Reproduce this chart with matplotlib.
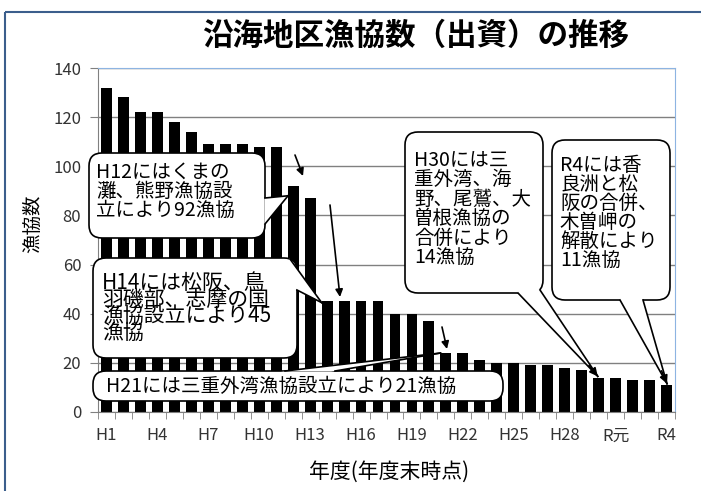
import matplotlib.pyplot as plt
import matplotlib.transforms as mtransforms
from matplotlib.patches import Rectangle, FancyBboxPatch, Polygon, FancyArrowPatch
from matplotlib.lines import Line2D
import numpy as np

plt.rcParams['font.family'] = ['Noto Sans CJK JP', 'DejaVu Sans']

# 年度（H1〜H30, R元〜R4）
years = ['H%d' % i for i in range(1, 31)] + ['R元', 'R2', 'R3', 'R4']
counts = [132, 128, 122, 122, 118, 114, 109, 109, 109, 108,
          108, 92, 87, 45, 45, 45, 45, 40, 40, 37,
          24, 24, 21, 20, 20, 19, 19, 18, 17, 14,
          14, 13, 13, 11]
tick_idx = list(range(0, 34, 3))
yticks = [0, 20, 40, 60, 80, 100, 120, 140]

title = '沿海地区漁協数（出資）の推移'
ylabel = '漁協数'
xlabel = '年度(年度末時点)'

W, H = 701, 491
fig = plt.figure(figsize=(W / 100, H / 100), dpi=100)
T = mtransforms.Affine2D().scale(1, -1).translate(0, H)   # 画像のピクセル座標（上から）

# 外枠
fig.add_artist(Rectangle((5, 12), 720, 500, transform=T, fill=False,
                         ec='#3b5e8c', lw=1.5, zorder=1))

ax = fig.add_axes([98 / W, (H - 412) / H, 577 / W, 344 / H])
x = np.arange(len(years))
ax.bar(x, counts, width=0.64, color='black', zorder=2)

ax.set_xlim(-0.5, len(years) - 0.5)
ax.set_ylim(0, 140)
ax.set_yticks(yticks)
ax.yaxis.grid(True, color='#808080', lw=1, zorder=0)
ax.set_xticks(tick_idx)
ax.set_xticklabels([years[i] for i in tick_idx])
ax.set_xticks(np.arange(-0.5, len(years)), minor=True)
ax.tick_params(axis='x', which='major', length=0, pad=11, labelsize=12, labelcolor='#333333')
ax.tick_params(axis='x', which='minor', length=5, direction='out', color='#808080')
ax.tick_params(axis='y', length=6, direction='out', color='#808080', labelsize=12,
               labelcolor='#333333', pad=6)
for s in ['top', 'right']:
    ax.spines[s].set_color('#8db4e2')
for s in ['left', 'bottom']:
    ax.spines[s].set_color('#808080')

fig.text(416, 36, title, transform=T, ha='center', va='center',
         fontsize=22, fontweight='bold')
fig.text(33, 224, ylabel, transform=T, rotation=90, ha='center', va='center', fontsize=14)
fig.text(389, 472, xlabel, transform=T, ha='center', va='center', fontsize=15)


def tip_px(xd, yd):
    px, py = ax.transData.transform((xd, yd))
    return px, H - py


def callout(txt, rect, txy, fs, ls, base1, base2, tip, head=False, va='center'):
    x0, y0, x1, y1 = rect
    fig.add_artist(FancyBboxPatch((x0, y0), x1 - x0, y1 - y0,
                                  boxstyle='round,pad=0,rounding_size=13',
                                  transform=T, fc='white', ec='black', lw=1.2, zorder=5))
    # 吹き出しの尾
    cx = (base1[0] + base2[0]) / 2
    cy = (base1[1] + base2[1]) / 2
    inner = [(b[0] + (cx - tip[0]) * 0.03, b[1] + (cy - tip[1]) * 0.03) for b in (base1, base2)]
    fig.add_artist(Polygon([inner[0], base1, tip, base2, inner[1]], closed=True,
                           transform=T, fc='white', ec='none', zorder=6))
    for b in (base1, base2):
        fig.add_artist(Line2D([b[0], tip[0]], [b[1], tip[1]], transform=T,
                              color='black', lw=1.2, zorder=7))
    if head:
        d = np.array(tip) - np.array([cx, cy])
        d = d / np.hypot(*d)
        start = np.array(tip) - d * 14
        fig.add_artist(FancyArrowPatch(tuple(start), tip, transform=T, arrowstyle='-|>',
                                       mutation_scale=12, color='black', lw=1.2,
                                       shrinkA=0, shrinkB=0, zorder=7))
    fig.text(txy[0], txy[1], txt, transform=T, ha='left', va=va, fontsize=fs,
             linespacing=ls, zorder=8)


def arrow(p0, p1):
    fig.add_artist(FancyArrowPatch(p0, p1, transform=T, arrowstyle='-|>',
                                   mutation_scale=11, color='black', lw=1.2,
                                   shrinkA=0, shrinkB=0, zorder=7))


callout('H12にはくまの\n灘、熊野漁協設\n立により92漁協', (89, 153, 265, 238), (96, 191), 14, 0.88,
        (265, 198), (265, 224), tip_px(10.7, 88))
callout('H14には松阪、鳥\n羽磯部、志摩の国\n漁協設立により45\n漁協', (93, 258, 297, 358), (102, 308), 15, 0.69,
        (290, 259), (297, 290), tip_px(12.68, 44.5))
callout('H21には三重外湾漁協設立により21漁協', (93, 371, 503, 401), (106, 386), 14, 0.88,
        (285, 371), (335, 371), tip_px(19.68, 24))
callout('H30には三\n重外湾、海\n野、尾鷲、大\n曽根漁協の\n合併により\n14漁協', (405, 132, 543, 293), (414, 209), 14, 0.9,
        (518, 293), (540, 290), tip_px(28.95, 14.5), head=True)
callout('R4には香\n良洲と松\n阪の合併、\n木曽岬の\n解散により\n11漁協', (552, 140, 670, 300), (560, 213), 14, 0.88,
        (620, 300), (643, 300), tip_px(33.03, 11.5), head=True)

arrow((295, 155), (303, 176))
arrow((330, 205), (340, 297))
arrow((442, 327), (447, 349))

fig.savefig('out.png', dpi=100)
